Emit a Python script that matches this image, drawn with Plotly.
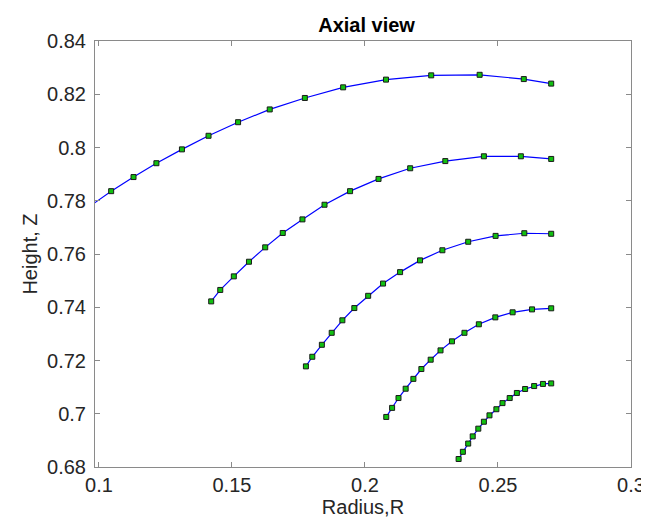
import plotly.graph_objects as go

# Data (Radius R, Height Z) for each curve
r1 = [0.0984, 0.1046, 0.1130, 0.1216, 0.1312, 0.1412, 0.1523, 0.1642, 0.1774, 0.1918, 0.2079, 0.2249, 0.2431, 0.2597, 0.2700]
z1 = [0.7792, 0.7836, 0.7889, 0.7941, 0.7993, 0.8044, 0.8095, 0.8143, 0.8186, 0.8226, 0.8255, 0.8271, 0.8273, 0.8257, 0.8240]

r2 = [0.1422, 0.1456, 0.1507, 0.1564, 0.1625, 0.1691, 0.1765, 0.1848, 0.1944, 0.2051, 0.2170, 0.2302, 0.2447, 0.2586, 0.2700]
z2 = [0.7422, 0.7465, 0.7516, 0.7571, 0.7625, 0.7679, 0.7730, 0.7785, 0.7836, 0.7882, 0.7922, 0.7949, 0.7967, 0.7967, 0.7957]

r3 = [0.1778, 0.1802, 0.1838, 0.1875, 0.1915, 0.1960, 0.2012, 0.2068, 0.2132, 0.2207, 0.2291, 0.2388, 0.2491, 0.2599, 0.2700]
z3 = [0.7178, 0.7214, 0.7259, 0.7304, 0.7351, 0.7397, 0.7443, 0.7489, 0.7532, 0.7576, 0.7614, 0.7646, 0.7668, 0.7678, 0.7676]

r4 = [0.2080, 0.2102, 0.2126, 0.2153, 0.2182, 0.2212, 0.2247, 0.2284, 0.2327, 0.2374, 0.2428, 0.2490, 0.2555, 0.2628, 0.2700]
z4 = [0.6988, 0.7022, 0.7059, 0.7094, 0.7131, 0.7168, 0.7203, 0.7238, 0.7272, 0.7304, 0.7336, 0.7362, 0.7381, 0.7392, 0.7396]

r5 = [0.2352, 0.2368, 0.2388, 0.2405, 0.2426, 0.2447, 0.2468, 0.2494, 0.2517, 0.2544, 0.2571, 0.2602, 0.2636, 0.2669, 0.2700]
z5 = [0.6830, 0.6857, 0.6888, 0.6915, 0.6944, 0.6970, 0.6994, 0.7017, 0.7040, 0.7059, 0.7078, 0.7093, 0.7104, 0.7112, 0.7114]

x_ticks = [0.1, 0.15, 0.2, 0.25, 0.3]
x_labels = ["0.1", "0.15", "0.2", "0.25", "0.3"]
y_ticks = [0.68, 0.70, 0.72, 0.74, 0.76, 0.78, 0.80, 0.82, 0.84]
y_labels = ["0.68", "0.7", "0.72", "0.74", "0.76", "0.78", "0.8", "0.82", "0.84"]

FONT = "Liberation Sans, Arial, Helvetica, sans-serif"

fig = go.Figure()
for rr, zz in [(r1, z1), (r2, z2), (r3, z3), (r4, z4), (r5, z5)]:
    fig.add_trace(go.Scatter(
        x=rr, y=zz, mode="lines+markers",
        line=dict(color="#0000ff", width=1.2),
        marker=dict(symbol="square", size=5, color="#11c011",
                    line=dict(color="#1a1a1a", width=1)),
        showlegend=False, cliponaxis=False,
    ))

axis_common = dict(
    showline=True, linecolor="#8a8a8a", linewidth=1, mirror="ticks",
    ticks="inside", ticklen=5, tickcolor="#8a8a8a", tickwidth=1,
    showgrid=False, zeroline=False,
    tickfont=dict(family=FONT, size=20, color="#262626"),
)

fig.update_layout(
    width=649, height=524,
    margin=dict(l=87, r=18, t=33, b=65),
    paper_bgcolor="white", plot_bgcolor="white",
    title=dict(text="<b>Axial view</b>", x=0.5525, xanchor="center", y=0.968, yanchor="middle",
               font=dict(family=FONT, size=20, color="black")),
    xaxis=dict(range=[0.09852, 0.3], tickvals=x_ticks, ticktext=x_labels,
               title=dict(text="Radius,R", font=dict(family=FONT, size=20, color="#262626"), standoff=4),
               **axis_common),
    yaxis=dict(range=[0.68, 0.84], tickvals=y_ticks, ticktext=y_labels,
               ticklabelstandoff=4,
               title=dict(text="Height, Z", font=dict(family=FONT, size=20, color="#262626"), standoff=4),
               **axis_common),
)

fig.write_html("out.html")
